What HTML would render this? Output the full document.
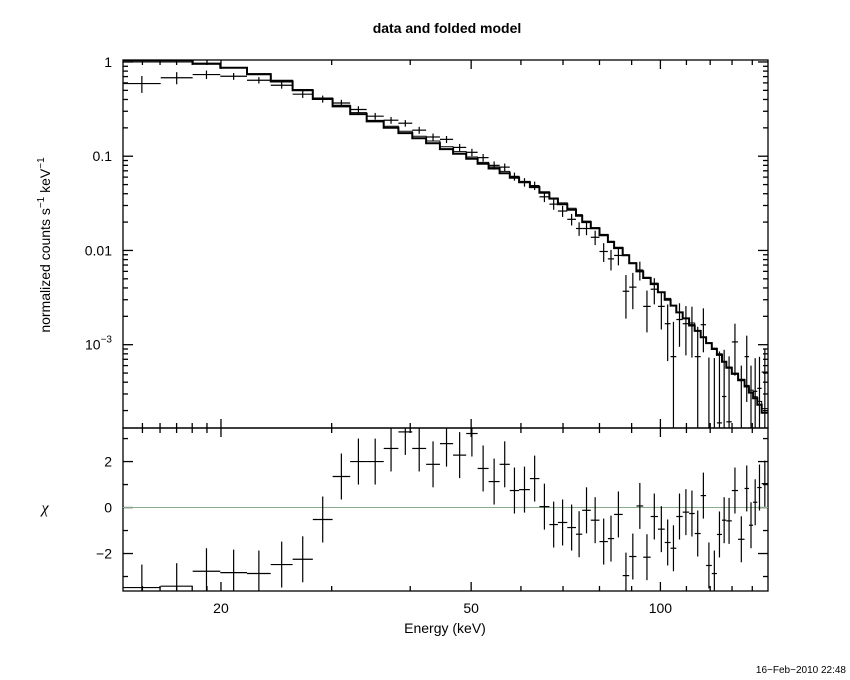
<!DOCTYPE html>
<html><head><meta charset="utf-8"><style>
body{margin:0;background:#fff}
svg{display:block;font-family:"Liberation Sans",sans-serif}
</style></head><body>
<svg id="chart" width="850" height="680" viewBox="0 0 850 680">
<defs>
<clipPath id="clipTop"><rect x="123" y="60" width="645" height="368"/></clipPath>
<clipPath id="clipBot"><rect x="123" y="428" width="645" height="163"/></clipPath>
</defs>
<rect width="850" height="680" fill="#fff"/>
<text x="447" y="33" text-anchor="middle" font-size="14" font-weight="bold">data and folded model</text>
<g id="axes"></g>
<g id="top-marks" clip-path="url(#clipTop)"></g>
<g id="bot-marks" clip-path="url(#clipBot)"></g>
<text transform="translate(50,245) rotate(-90)" text-anchor="middle" font-size="14">normalized counts s<tspan dy="-6" font-size="10">−1</tspan><tspan dy="6"> keV</tspan><tspan dy="-6" font-size="10">−1</tspan></text>
<text x="45" y="513" text-anchor="middle" font-size="16" font-family="Liberation Serif, serif" font-style="italic">χ</text>
<text x="445" y="633" text-anchor="middle" font-size="14">Energy (keV)</text>
<text x="846" y="673" text-anchor="end" font-size="10">16−Feb−2010 22:48</text>
</svg>
<script>
const binEdges=[13.97,16.04,18.03,19.95,22.0,24.0,26.0,28.0,30.1,32.1,34.1,36.3,38.3,40.3,42.4,44.6,46.8,49.1,51.2,53.3,55.5,57.6,59.6,62.0,64.2,66.6,68.7,71.1,73.4,75.1,77.5,80.0,82.5,84.4,87.1,89.2,91.6,93.9,96.5,99.1,101.6,103.8,106.0,108.5,111.1,113.4,115.9,118.2,120.7,123.0,125.3,127.3,129.9,132.9,136.1,138.3,140.4,142.6,144.9,148.3];
const flux=[0.59,0.68,0.735,0.705,0.64,0.566,0.455,0.405,0.367,0.313,0.266,0.241,0.224,0.189,0.160,0.151,0.124,0.11,0.0966,0.080,0.0766,0.061,0.053,0.0488,0.0371,0.031,0.0262,0.0214,0.0171,0.0171,0.0138,0.00975,0.00814,0.00885,0.00369,0.00408,0.0062,0.00255,0.00388,0.00255,0.00167,0.000747,0.00185,0.00167,0.00163,0.000747,0.00163,0.00003,0.00002,0.000148,0.000282,0.000152,0.00107,0.0001,0.000747,0.0001,0.00032,0.000344,0.000512];
const fluxErr=[0.12,0.1,0.076,0.059,0.05,0.045,0.04,0.035,0.03,0.026,0.022,0.02,0.018,0.016,0.014,0.013,0.011,0.01,0.009,0.008,0.007,0.006,0.0055,0.005,0.0045,0.004,0.0035,0.003,0.0028,0.0026,0.0024,0.0022,0.002,0.0019,0.0018,0.0017,0.0014,0.0012,0.0012,0.0011,0.001,0.001,0.0009,0.0009,0.0009,0.0008,0.0008,0.0007,0.0007,0.0007,0.0006,0.0006,0.0006,0.0005,0.0005,0.0005,0.0004,0.0004,0.0004];
const modelA=[1.0,1.0,0.945,0.872,0.753,0.64,0.51,0.415,0.347,0.29,0.24,0.208,0.184,0.163,0.145,0.126,0.112,0.098,0.086,0.077,0.069,0.061,0.054,0.048,0.042,0.036,0.032,0.028,0.024,0.0205,0.0175,0.0148,0.0125,0.0108,0.0090,0.0074,0.0061,0.0052,0.0045,0.0036,0.0031,0.0026,0.0022,0.0019,0.0017,0.0014,0.0012,0.00105,0.00092,0.0008,0.00066,0.00058,0.0005,0.00043,0.00037,0.00033,0.00028,0.00025,0.00021];
const modelB=[1.04,1.04,0.96,0.87,0.74,0.62,0.50,0.405,0.338,0.28,0.234,0.200,0.176,0.155,0.137,0.119,0.106,0.094,0.083,0.074,0.066,0.059,0.053,0.047,0.041,0.0355,0.031,0.027,0.0233,0.0200,0.0172,0.0145,0.0123,0.0106,0.0089,0.0073,0.0060,0.0051,0.0044,0.0036,0.0030,0.0026,0.0022,0.0019,0.0016,0.0014,0.0012,0.00104,0.00090,0.00078,0.00066,0.00057,0.00049,0.00042,0.00036,0.00031,0.00027,0.00023,0.00019];
const chi=[-3.48,-3.42,-2.77,-2.83,-2.87,-2.48,-2.25,-0.52,1.35,2.0,2.0,2.57,3.29,2.57,1.88,2.78,2.28,3.22,1.70,1.13,1.88,0.74,0.78,1.26,0.04,-0.74,-0.65,-0.87,-1.16,-0.12,-0.55,-1.48,-1.35,-0.30,-2.96,-2.13,0.07,-2.16,-0.39,-0.94,-1.52,-1.77,-0.39,-0.20,-0.26,-1.13,0.52,-2.52,-2.87,-1.17,-0.55,-0.58,0.74,-1.38,0.83,-0.77,0.23,0.87,1.04];
const xTickLabels=[20,50,100];
const yTopTickLabels=[1,0.1,0.01,0.001];
const chiTickLabels=[2,0,-2];

const NS='http://www.w3.org/2000/svg';
const L=123,R=768,T=60,M=428,B=591;
const logX0=Math.log10(13.97),logX1=Math.log10(148.3);
const yLogTop=0.021,yLogBot=-3.884;
const chiTop=3.46,chiBot=-3.63;
function xs(e){return L+(Math.log10(e)-logX0)/(logX1-logX0)*(R-L);}
function ys(v){return T+(yLogTop-Math.log10(v))/(yLogTop-yLogBot)*(M-T);}
function yc(c){return M+(chiTop-c)/(chiTop-chiBot)*(B-M);}
function mk(tag,attrs,parent){const e=document.createElementNS(NS,tag);for(const k in attrs)e.setAttribute(k,attrs[k]);parent.appendChild(e);return e;}
const axes=document.getElementById('axes');
const topG=document.getElementById('top-marks');
const botG=document.getElementById('bot-marks');

let f1=mk('rect',{x:L,y:T,width:R-L,height:M-T,fill:'none',stroke:'#000','stroke-width':1.3},axes);


let f2=mk('rect',{x:L,y:M,width:R-L,height:B-M,fill:'none',stroke:'#000','stroke-width':1.3},axes);



for(let e=20;e<=140;e+=10){
  const major=xTickLabels.includes(e);
  const len=major?9:5;
  const x=xs(e);
  [[T,T+len],[M-len,M+len],[B-len,B]].forEach(p=>{
    const t=mk('line',{x1:x,x2:x,y1:p[0],y2:p[1],stroke:'#000','stroke-width':1.3},axes);
    
    
  });
}
[15,16,17,18,19].forEach(e=>{const x=xs(e);[[T,T+5],[M-5,M+5],[B-5,B]].forEach(p=>{mk('line',{x1:x,x2:x,y1:p[0],y2:p[1],stroke:'#000','stroke-width':1.3},axes);});});
xTickLabels.forEach(v=>{
  const t=mk('text',{x:xs(v),y:613,'text-anchor':'middle','font-size':14},axes);
  t.textContent=v;
  
  
});

for(let d=-4;d<=0;d++){
  for(let m=1;m<=9;m++){
    const v=m*Math.pow(10,d);
    if(Math.log10(v)<yLogBot||Math.log10(v)>yLogTop)continue;
    const y=ys(v),len=m===1?10:5;
    mk('line',{x1:L,x2:L+len,y1:y,y2:y,stroke:'#000','stroke-width':1.3},axes);
    mk('line',{x1:R-len,x2:R,y1:y,y2:y,stroke:'#000','stroke-width':1.3},axes);
  }
}
yTopTickLabels.forEach(v=>{
  const t=mk('text',{x:112,y:ys(v)+5,'text-anchor':'end','font-size':14},axes);
  if(v>=0.01){t.textContent=String(v);}
  else{t.textContent='10';const s=mk('tspan',{dy:-7,'font-size':10},t);s.textContent='−'+Math.round(-Math.log10(v));}
  
  
});

for(let c=-3;c<=3;c++){
  const y=yc(c),len=c%2===0?10:5;
  mk('line',{x1:L,x2:L+len,y1:y,y2:y,stroke:'#000','stroke-width':1.3},axes);
  mk('line',{x1:R-len,x2:R,y1:y,y2:y,stroke:'#000','stroke-width':1.3},axes);
}
chiTickLabels.forEach(v=>{
  const t=mk('text',{x:112,y:yc(v)+5,'text-anchor':'end','font-size':14},axes);
  t.textContent=v<0?'−'+(-v):String(v);
  
  
});

const zl=mk('line',{x1:L,x2:R,y1:yc(0),y2:yc(0),stroke:'#8a8','stroke-width':1},botG);



function stepPath(arr){
  let d='';
  for(let i=0;i<arr.length;i++){
    const x0=xs(binEdges[i]),x1=xs(binEdges[i+1]),y=ys(arr[i]);
    d+=(i===0?'M':'L')+x0.toFixed(1)+','+y.toFixed(1)+'L'+x1.toFixed(1)+','+y.toFixed(1);
  }
  return d;
}
const pb=mk('path',{d:stepPath(modelB),fill:'none',stroke:'#000','stroke-width':2},topG);


const pa=mk('path',{d:stepPath(modelA),fill:'none',stroke:'#000','stroke-width':1},topG);



for(let i=0;i<flux.length;i++){
  const x0=xs(binEdges[i]),x1=xs(binEdges[i+1]),xm=xs(Math.sqrt(binEdges[i]*binEdges[i+1]));
  const g=mk('g',{},topG);
  
  
  const y=ys(flux[i]);
  const lo=flux[i]-fluxErr[i];
  const yl=lo>0?ys(lo):M+5;
  const yh=ys(flux[i]+fluxErr[i]);
  mk('line',{x1:x0,x2:x1,y1:y,y2:y,stroke:'#000','stroke-width':1.2},g);
  mk('line',{x1:xm,x2:xm,y1:yh,y2:yl,stroke:'#000','stroke-width':1.2},g);
  const g2=mk('g',{},botG);
  
  
  const yr=yc(chi[i]);
  mk('line',{x1:x0,x2:x1,y1:yr,y2:yr,stroke:'#000','stroke-width':1.2},g2);
  mk('line',{x1:xm,x2:xm,y1:yc(chi[i]+1),y2:yc(chi[i]-1),stroke:'#000','stroke-width':1.2},g2);
}
</script>
</body></html>
